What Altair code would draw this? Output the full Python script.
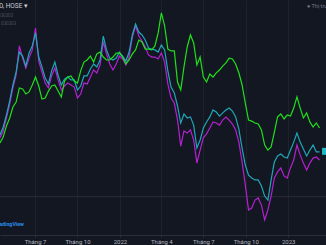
import altair as alt
import pandas as pd

# weekly closes, expressed as % change (compare mode)
dates = pd.date_range("2021-04-16", periods=100, freq="7D")

green = [-4.4, -1.6, 3.7, 7.5, 12.7, 15.1, 21.8, 21.3, 18.9, 19.9,
         23.2, 27.0, 22.7, 16.5, 17.0, 20.3, 22.7, 23.2, 20.3, 17.5,
         25.1, 27.0, 27.5, 25.1, 24.1, 29.9, 34.1, 35.1, 37.0, 34.1,
         38.0, 38.9, 36.5, 35.1, 35.1, 36.5, 38.4, 38.4, 36.5, 33.2,
         35.1, 38.0, 39.9, 44.6, 43.7, 40.3, 40.3, 39.9, 41.8, 48.0,
         57.5, 51.3, 40.3, 39.4, 39.4, 24.6, 20.8, 31.8, 41.3, 47.0,
         43.2, 32.7, 36.5, 27.0, 24.6, 28.4, 27.0, 29.0, 30.3, 32.2,
         33.7, 36.0, 35.6, 33.2, 29.0, 23.2, 14.6, 6.5, 6.0, 5.1,
         4.6, 1.8, -5.4, -7.8, -6.3, 0.8, 8.0, 9.4, 7.0, 8.9,
         8.4, 12.2, 17.5, 12.2, 7.5, 9.9, 5.6, 3.2, 5.1, 2.7]

cyan = [-0.6, 3.2, 8.9, 15.6, 23.2, 29.4, 38.9, 37.0, 32.2, 38.4,
        41.8, 48.0, 36.5, 31.8, 26.5, 23.7, 29.9, 34.1, 27.9, 23.2,
        26.0, 27.0, 25.6, 25.6, 20.8, 22.7, 27.5, 27.5, 30.8, 33.2,
        31.8, 35.1, 46.5, 39.9, 36.0, 35.1, 36.0, 38.9, 37.0, 34.6,
        38.9, 47.0, 52.2, 48.4, 47.0, 44.6, 40.8, 40.3, 39.9, 38.9,
        42.2, 39.9, 29.9, 22.2, 19.4, 13.2, 5.1, 9.4, 7.5, 8.0,
        4.1, -6.8, -3.0, 2.7, 5.6, 8.0, 11.3, 10.3, 8.4, 9.9,
        11.3, 12.2, 10.8, 8.0, 2.2, -6.8, -14.9, -19.7, -21.1, -22.0,
        -22.0, -24.9, -29.7, -31.6, -22.0, -13.5, -10.6, -9.7, -11.1, -11.6,
        -7.8, -4.0, 0.3, -4.0, -7.3, -10.6, -7.8, -5.4, -8.7, -8.7]

magenta = [-2.0, 1.3, 7.5, 14.1, 21.8, 28.0, 41.8, 36.0, 31.3, 36.0,
           39.9, 50.3, 34.6, 29.4, 24.1, 21.8, 27.5, 31.3, 25.6, 20.8,
           22.7, 24.1, 23.2, 22.2, 17.0, 18.9, 24.1, 23.7, 27.0, 30.3,
           28.9, 32.7, 43.7, 38.0, 33.2, 30.3, 33.2, 37.0, 35.6, 32.7,
           36.5, 46.0, 51.3, 46.5, 44.1, 41.3, 37.5, 36.5, 36.5, 35.6,
           38.4, 34.1, 23.7, 17.0, 14.6, 6.5, -5.9, 1.3, 0.3, 1.8,
           -3.0, -14.0, -7.8, -2.0, -0.1, 2.7, 5.6, 5.1, 4.1, 6.5,
           7.9, 6.5, 4.6, 1.8, -4.0, -13.5, -24.4, -36.3, -35.4, -31.6,
           -30.6, -34.0, -41.1, -36.3, -29.7, -21.1, -18.2, -16.3, -20.1, -21.1,
           -16.3, -12.5, -5.4, -10.1, -14.0, -17.3, -14.0, -11.6, -11.1, -12.5]

tick_dates = ["2021-04-01", "2021-07-01", "2021-10-01", "2022-01-01", "2022-04-01",
              "2022-07-01", "2022-10-01", "2023-01-01", "2023-04-01"]
grid_vals = [-40, -30, -20, -10, 0, 10, 20, 30, 40, 50, 60]

BG = "#131722"
GRID = "#1e222d"

def frame(vals):
    return pd.DataFrame({"date": dates, "value": vals})

def dt(s):
    y, m, d = s.split("-")
    return alt.DateTime(year=int(y), month=int(m), date=int(d))

xscale = alt.Scale(domain=[dt("2021-04-16"), dt("2023-03-24")])
yscale = alt.Scale(domain=[-48.24, 63.67], nice=False, zero=False)

xenc = alt.X("date:T", scale=xscale, axis=alt.Axis(
    values=[dt(s) for s in tick_dates],
    labelExpr="month(datum.value) == 0 ? '' + year(datum.value) : 'Tháng ' + (month(datum.value) + 1)",
    title=None, grid=True, gridColor=GRID, domain=True, domainColor="#2a2e39",
    ticks=True, tickSize=2, tickColor="#2a2e39", labelColor="#b2b5be", labelFontSize=6,
    labelFont="Roboto", labelPadding=1, labelBound=False, labelFlush=False, labelOverlap=False))
yenc = alt.Y("value:Q", scale=yscale, axis=alt.Axis(
    values=grid_vals, labels=False, ticks=False, domain=False, title=None,
    grid=True, gridColor=GRID, orient="right"))

def line(vals, color):
    return alt.Chart(frame(vals)).mark_line(color=color, strokeWidth=1.2, clip=True).encode(
        x=xenc, y=yenc)

base_rule = alt.Chart(pd.DataFrame({"v": [-30]})).mark_rule(color="#2a2e39", strokeWidth=1).encode(
    y=alt.Y("v:Q", scale=yscale, axis=None))

last_label = alt.Chart(pd.DataFrame({"date": [pd.Timestamp("2023-03-23")], "value": [cyan[-1] + 0.3]})).mark_point(
    shape="square", filled=True, size=49, color="#22b8c8", opacity=1).encode(
    x=alt.X("date:T", scale=xscale), y=alt.Y("value:Q", scale=yscale))

def txt(s, x, y, color, size, align="left", weight="normal", font="Roboto"):
    return alt.Chart(pd.DataFrame({"t": [s]})).mark_text(
        align=align, baseline="middle", color=color, fontSize=size, fontWeight=weight, font=font).encode(
        x=alt.value(x), y=alt.value(y), text="t:N")

texts = [
    txt("VNINDEX · 1D, HOSE ▾", 28, 6, "#c9ccd4", 6.5, align="right"),
    txt("⊡⊡⊡", -2, 15, "#5d606b", 6, font="DejaVu Sans"),
    txt("⊡⊡⊡", 1, 23, "#5d606b", 6, font="DejaVu Sans"),
    txt("● Thị trường đóng cửa", 307, 6, "#787b86", 5.5),
    txt("TradingView", 24, 224, "#2a8be8", 5.3, align="right", weight="bold"),
]

chart = alt.layer(
    base_rule,
    line(magenta, "#b620d2"),
    line(cyan, "#1ea7b8"),
    line(green, "#1fe01a"),
    last_label,
    *texts,
).properties(
    width=326, height=235, background=BG,
    padding={"left": 0, "top": 0, "right": 0, "bottom": 10},
    autosize=alt.AutoSizeParams(type="none"),
).configure_view(stroke=None, fill=BG)

chart.save("out.html", embed_options={"renderer": "svg", "actions": False})
